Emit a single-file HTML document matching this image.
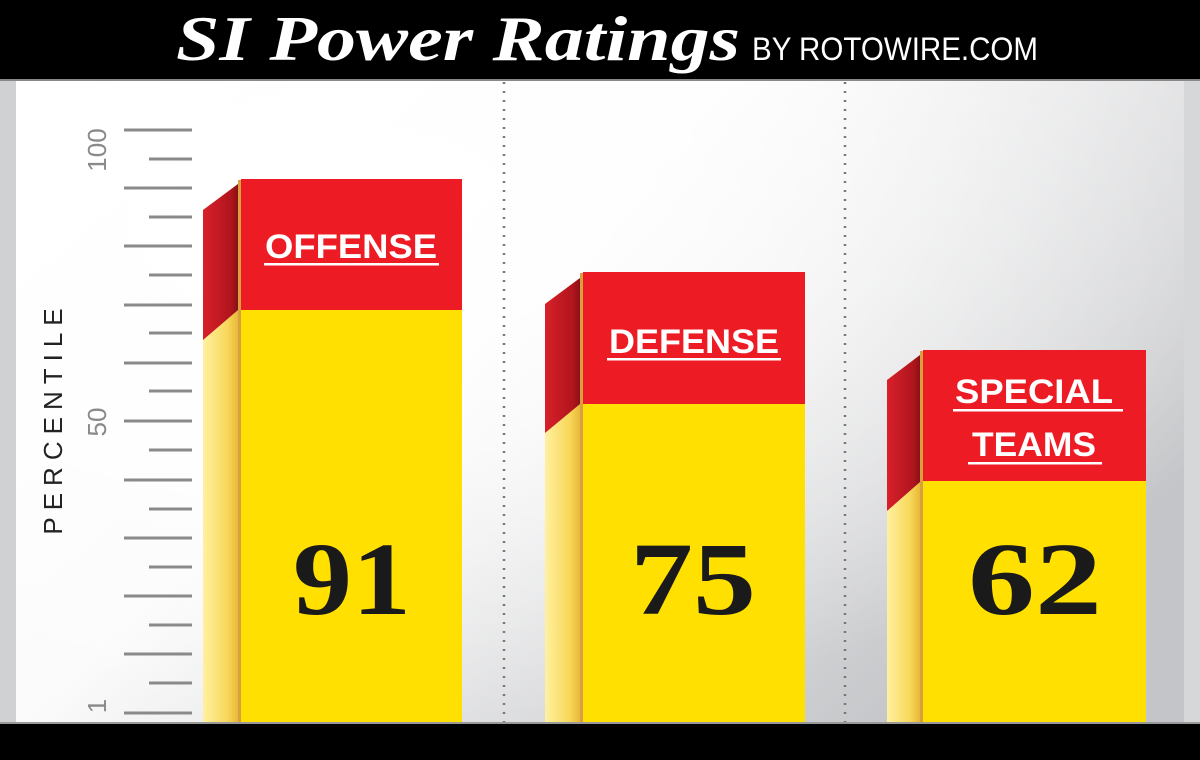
<!DOCTYPE html>
<html><head><meta charset="utf-8"><style>
html,body{margin:0;padding:0;width:1200px;height:760px;overflow:hidden;background:#000}
svg{display:block}
</style></head><body>
<svg width="1200" height="760" xmlns="http://www.w3.org/2000/svg">
<defs>
<linearGradient id="bg" x1="0" y1="0" x2="1" y2="0.6">
<stop offset="0" stop-color="#ffffff"/><stop offset="0.45" stop-color="#fbfbfb"/><stop offset="1" stop-color="#c4c5c8"/>
</linearGradient>
<radialGradient id="bg2" cx="0.3" cy="0.2" r="0.8">
<stop offset="0" stop-color="#fff" stop-opacity="1"/><stop offset="0.5" stop-color="#fff" stop-opacity="0.6"/><stop offset="1" stop-color="#fff" stop-opacity="0"/>
</radialGradient>
<linearGradient id="side" x1="0" y1="0" x2="1" y2="0">
<stop offset="0" stop-color="#fff1a0"/><stop offset="0.7" stop-color="#f8d85a"/><stop offset="1" stop-color="#e8b838"/>
</linearGradient>
<linearGradient id="sider" x1="0" y1="0" x2="1" y2="0">
<stop offset="0" stop-color="#d8202a"/><stop offset="0.8" stop-color="#b0151d"/><stop offset="1" stop-color="#8a1015"/>
</linearGradient>
</defs>
<rect x="0" y="0" width="1200" height="760" fill="#000"/>
<rect x="0" y="79" width="1200" height="2" fill="#888"/>
<rect x="0" y="81" width="1200" height="642" fill="url(#bg)"/>
<rect x="0" y="81" width="1200" height="642" fill="url(#bg2)"/>
<rect x="0" y="81" width="16" height="642" fill="#d0d1d3"/>
<rect x="1184" y="81" width="16" height="642" fill="#d6d7d9"/>
<rect x="0" y="722" width="1200" height="2" fill="#999"/>
<text x="176" y="60" font-family="Liberation Serif, serif" font-style="italic" font-weight="bold" font-size="64" fill="#fff" textLength="564" lengthAdjust="spacingAndGlyphs">SI Power Ratings</text>
<text x="752" y="60" font-family="Liberation Sans, sans-serif" font-size="32" fill="#fff" textLength="286" lengthAdjust="spacingAndGlyphs">BY ROTOWIRE.COM</text>
<line x1="504" y1="82" x2="504" y2="722" stroke="#777" stroke-width="2.5" stroke-dasharray="2,7"/>
<line x1="845" y1="82" x2="845" y2="722" stroke="#777" stroke-width="2.5" stroke-dasharray="2,7"/>
<g stroke="#8a8a8a" stroke-width="3">
<line x1="124" y1="130" x2="192" y2="130"/><line x1="149" y1="159" x2="192" y2="159"/>
<line x1="124" y1="188" x2="192" y2="188"/><line x1="149" y1="217" x2="192" y2="217"/>
<line x1="124" y1="246" x2="192" y2="246"/><line x1="149" y1="275" x2="192" y2="275"/>
<line x1="124" y1="305" x2="192" y2="305"/><line x1="149" y1="333" x2="192" y2="333"/>
<line x1="124" y1="363" x2="192" y2="363"/><line x1="149" y1="391" x2="192" y2="391"/>
<line x1="124" y1="421" x2="192" y2="421"/><line x1="149" y1="450" x2="192" y2="450"/>
<line x1="124" y1="480" x2="192" y2="480"/><line x1="149" y1="509" x2="192" y2="509"/>
<line x1="124" y1="538" x2="192" y2="538"/><line x1="149" y1="567" x2="192" y2="567"/>
<line x1="124" y1="596" x2="192" y2="596"/><line x1="149" y1="625" x2="192" y2="625"/>
<line x1="124" y1="654" x2="192" y2="654"/><line x1="149" y1="683" x2="192" y2="683"/>
<line x1="124" y1="713" x2="192" y2="713"/>
</g>
<g font-family="Liberation Sans, sans-serif" fill="#8a8a8a" font-size="26">
<text transform="translate(106,150) rotate(-90)" text-anchor="middle">100</text>
<text transform="translate(106,422) rotate(-90)" text-anchor="middle">50</text>
<text transform="translate(106,706) rotate(-90)" text-anchor="middle">1</text>
</g>
<text transform="translate(62,418) rotate(-90)" text-anchor="middle" font-family="Liberation Sans, sans-serif" font-size="26" letter-spacing="7" fill="#222">PERCENTILE</text>

<!-- Offense -->
<polygon points="203,210 238,184 238,722 203,722" fill="url(#side)"/>
<polygon points="203,210 238,184 238,310 203,340" fill="url(#sider)"/>
<rect x="238" y="180" width="3" height="542" fill="#d9a040"/>
<rect x="241" y="179" width="221" height="131" fill="#ed1c24"/>
<rect x="241" y="310" width="221" height="412" fill="#ffe000"/>
<text x="351" y="258" text-anchor="middle" font-family="Liberation Sans, sans-serif" font-weight="bold" font-size="34" fill="#fff" textLength="172" lengthAdjust="spacingAndGlyphs">OFFENSE</text>
<rect x="264" y="263" width="175" height="2.5" fill="#fff"/>
<text x="352" y="614" text-anchor="middle" font-family="Liberation Serif, serif" font-weight="bold" font-size="104" fill="#1a1a1a" textLength="118" lengthAdjust="spacingAndGlyphs">91</text>

<!-- Defense -->
<polygon points="545,304 580,278 580,722 545,722" fill="url(#side)"/>
<polygon points="545,304 580,278 580,404 545,433" fill="url(#sider)"/>
<rect x="580" y="273" width="3" height="449" fill="#d9a040"/>
<rect x="583" y="272" width="222" height="132" fill="#ed1c24"/>
<rect x="583" y="404" width="222" height="318" fill="#ffe000"/>
<text x="694" y="353" text-anchor="middle" font-family="Liberation Sans, sans-serif" font-weight="bold" font-size="34" fill="#fff" textLength="170" lengthAdjust="spacingAndGlyphs">DEFENSE</text>
<rect x="607" y="358" width="174" height="2.5" fill="#fff"/>
<text x="693" y="614" text-anchor="middle" font-family="Liberation Serif, serif" font-weight="bold" font-size="104" fill="#1a1a1a" textLength="126" lengthAdjust="spacingAndGlyphs">75</text>

<!-- Special Teams -->
<polygon points="887,380 920,355 920,722 887,722" fill="url(#side)"/>
<polygon points="887,380 920,355 920,482 887,511" fill="url(#sider)"/>
<rect x="920" y="351" width="3" height="371" fill="#d9a040"/>
<rect x="923" y="350" width="223" height="131" fill="#ed1c24"/>
<rect x="923" y="481" width="223" height="241" fill="#ffe000"/>
<text x="1034" y="403" text-anchor="middle" font-family="Liberation Sans, sans-serif" font-weight="bold" font-size="34" fill="#fff" textLength="158" lengthAdjust="spacingAndGlyphs">SPECIAL</text>
<rect x="953" y="409" width="170" height="2.5" fill="#fff"/>
<text x="1034" y="456" text-anchor="middle" font-family="Liberation Serif, serif" font-weight="bold" font-size="34" fill="#fff" textLength="124" lengthAdjust="spacingAndGlyphs" style="font-family:'Liberation Sans',sans-serif">TEAMS</text>
<rect x="968" y="462" width="134" height="2.5" fill="#fff"/>
<text x="1035" y="614" text-anchor="middle" font-family="Liberation Serif, serif" font-weight="bold" font-size="104" fill="#1a1a1a" textLength="134" lengthAdjust="spacingAndGlyphs">62</text>
</svg>
</body></html>
